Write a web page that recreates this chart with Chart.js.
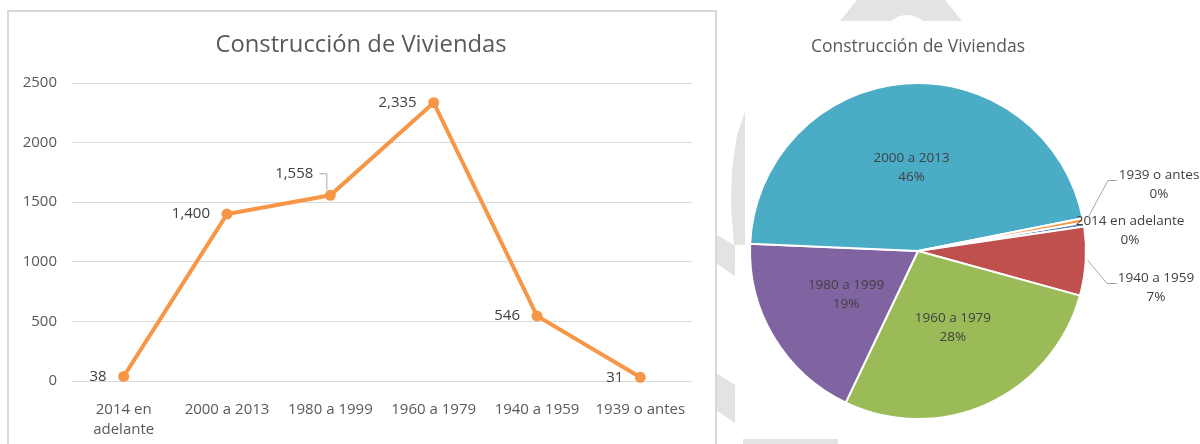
<!DOCTYPE html>
<html>
<head>
<meta charset="utf-8">
<script src="https://cdn.jsdelivr.net/npm/chart.js@4/dist/chart.umd.min.js"></script>
<style>
  html, body { margin: 0; padding: 0; background: #ffffff; }
  body { width: 1200px; height: 444px; position: relative; overflow: hidden; }
  #wm { position: absolute; left: 0; top: 0; }
  #box { position: absolute; left: 7px; top: 10px; width: 706px; height: 460px; border: 2px solid #d9d9d9; box-sizing: content-box; }
  #lineWrap { position: absolute; left: 0; top: 0; width: 715px; height: 444px; }
  #pieWrap { position: absolute; left: 720px; top: 0; width: 480px; height: 444px; }
</style>
</head>
<body>
<svg id="wm" width="1200" height="444">
  <g fill="#e3e3e3">
    <polygon points="857,0 945,0 962,21 840,21"/>
    <polygon points="716,234 735,246 735,276 716,263"/>
    <polygon points="716,373 735,385 735,423 716,410"/>
    <polygon points="745,112 737,135 732,170 731,205 734,245 745,245"/>
    <polygon points="743,439 838,439 838,444 743,444"/>
  </g>
  <circle cx="907" cy="40" r="25" fill="#ffffff"/>
</svg>
<div id="box"></div>
<div id="lineWrap"><canvas id="lineChart" width="715" height="444"></canvas></div>
<div id="pieWrap"><canvas id="pieChart" width="480" height="444"></canvas></div>
<script>
// ---- Data ----
const chartTitle = 'Construcción de Viviendas';
const lineCategories = [['2014 en', 'adelante'], '2000 a 2013', '1980 a 1999', '1960 a 1979', '1940 a 1959', '1939 o antes'];
const lineValues = [38, 1400, 1558, 2335, 546, 31];
const yTicks = [0, 500, 1000, 1500, 2000, 2500];

const pieCategories = ['2014 en adelante', '1940 a 1959', '1960 a 1979', '1980 a 1999', '2000 a 2013', '1939 o antes'];
const pieValues = [0.4, 6.6, 27.8, 18.6, 46.2, 0.4];
const pieColors = ['#4F81BD', '#C0504D', '#9BBB59', '#8064A2', '#4BACC6', '#F79646'];

Chart.defaults.font.family = "'Open Sans', 'DejaVu Sans', sans-serif";
Chart.defaults.color = '#595959';

function fmt(v) { return String(v).replace(/\B(?=(\d{3})+(?!\d))/g, ','); }

// ---- Line chart ----
const lineTitlePlugin = {
  id: 'lineTitle',
  afterDraw(chart) {
    const ctx = chart.ctx;
    ctx.save();
    ctx.font = "23.8px 'Open Sans'";
    ctx.fillStyle = '#595959';
    ctx.textAlign = 'center';
    ctx.textBaseline = 'middle';
    ctx.fillText(chartTitle, 361, 45);
    ctx.restore();
  }
};

const lineLabelsPlugin = {
  id: 'lineLabels',
  afterDatasetsDraw(chart) {
    const ctx = chart.ctx;
    const meta = chart.getDatasetMeta(0);
    ctx.save();
    ctx.font = "15px 'Open Sans'";
    ctx.fillStyle = '#404040';
    ctx.textAlign = 'right';
    ctx.textBaseline = 'middle';
    meta.data.forEach((pt, i) => {
      const txt = fmt(lineValues[i]);
      if (i === 2) {
        const ly = pt.y - 22;
        ctx.fillText(txt, pt.x - 17, ly);
        ctx.strokeStyle = '#a6a6a6';
        ctx.lineWidth = 1;
        ctx.beginPath();
        ctx.moveTo(pt.x - 11, ly + 0.5);
        ctx.lineTo(pt.x - 3.5, ly + 0.5);
        ctx.lineTo(pt.x - 3.5, pt.y - 5);
        ctx.stroke();
      } else {
        ctx.fillText(txt, pt.x - 17, pt.y);
      }
    });
    ctx.restore();
  }
};

new Chart(document.getElementById('lineChart'), {
  type: 'line',
  data: {
    labels: lineCategories,
    datasets: [{
      data: lineValues,
      borderColor: '#F79646',
      backgroundColor: '#F79646',
      borderWidth: 4,
      pointRadius: 5.5,
      pointBorderWidth: 0,
      pointBackgroundColor: '#F79646',
      tension: 0,
      clip: false
    }]
  },
  options: {
    responsive: false,
    animation: false,
    devicePixelRatio: 1,
    layout: { padding: { left: 0, right: 23, top: 83, bottom: 0 } },
    plugins: {
      legend: { display: false },
      tooltip: { enabled: false },
      title: { display: false }
    },
    scales: {
      x: {
        offset: true,
        grid: { display: false },
        border: { display: false },
        ticks: { color: '#595959', font: { size: 15, lineHeight: 1.3 }, padding: 11, maxRotation: 0, autoSkip: false },
        afterFit(scale) { scale.height = 63; }
      },
      y: {
        min: 0,
        max: 2500,
        afterBuildTicks(scale) { scale.ticks = yTicks.map(v => ({ value: v })); },
        grid: { color: '#d9d9d9', lineWidth: 1, drawTicks: false },
        border: { display: false },
        ticks: { color: '#595959', font: { size: 15 }, padding: 15, callback: v => String(v) },
        afterFit(scale) { scale.width = 72; }
      }
    }
  },
  plugins: [lineLabelsPlugin, lineTitlePlugin]
});

// ---- Pie chart ----
const pieLabelsPlugin = {
  id: 'pieLabels',
  afterDatasetsDraw(chart) {
    const ctx = chart.ctx;
    const meta = chart.getDatasetMeta(0);
    const total = pieValues.reduce((a, b) => a + b, 0);
    ctx.save();
    ctx.font = "13.5px 'Open Sans'";
    ctx.fillStyle = '#404040';
    ctx.textAlign = 'center';
    ctx.textBaseline = 'middle';
    const lh = 19;
    meta.data.forEach((arc, i) => {
      const pct = Math.round(pieValues[i] / total * 100) + '%';
      const name = pieCategories[i];
      const cx = arc.x, cy = arc.y, R = arc.outerRadius;
      const mid = (arc.startAngle + arc.endAngle) / 2;
      const ex = cx + Math.cos(mid) * R, ey = cy + Math.sin(mid) * R;
      if (pieValues[i] / total >= 0.1) {
        const c = arc.getCenterPoint();
        ctx.fillText(name, c.x, c.y - lh / 2);
        ctx.fillText(pct, c.x, c.y + lh / 2);
        return;
      }
      let tx, ty, leader = null;
      if (i === 5) {          // 1939 o antes
        tx = cx + 241; ty = cy - 76;
        leader = [[ex + 5, ey - 3], [cx + 190, cy - 70.5], [cx + 199, cy - 70.5]];
      } else if (i === 0) {   // 2014 en adelante
        tx = cx + 212; ty = cy - 30;
      } else {                // 1940 a 1959
        tx = cx + 238; ty = cy + 27;
        leader = [[ex + 2, ey - 1], [cx + 189, cy + 32.5], [cx + 199, cy + 32.5]];
      }
      if (leader) {
        ctx.strokeStyle = '#a6a6a6';
        ctx.lineWidth = 1;
        ctx.beginPath();
        ctx.moveTo(leader[0][0], leader[0][1]);
        for (let k = 1; k < leader.length; k++) ctx.lineTo(leader[k][0], leader[k][1]);
        ctx.stroke();
      }
      ctx.fillText(name, tx, ty);
      ctx.fillText(pct, tx, ty + lh);
    });
    ctx.restore();
  }
};

new Chart(document.getElementById('pieChart'), {
  type: 'pie',
  data: {
    labels: pieCategories,
    datasets: [{
      data: pieValues,
      backgroundColor: pieColors,
      borderColor: '#ffffff',
      borderWidth: 2
    }]
  },
  options: {
    responsive: false,
    animation: false,
    devicePixelRatio: 1,
    rotation: 80.2,
    layout: { padding: { left: 29, right: 113, top: 0, bottom: 24 } },
    plugins: {
      legend: { display: false },
      tooltip: { enabled: false },
      title: {
        display: true,
        text: chartTitle,
        color: '#595959',
        font: { size: 17.5, weight: 'normal', lineHeight: 1.2 },
        padding: { top: 37, bottom: 24 }
      }
    }
  },
  plugins: [pieLabelsPlugin]
});
</script>
</body>
</html>
